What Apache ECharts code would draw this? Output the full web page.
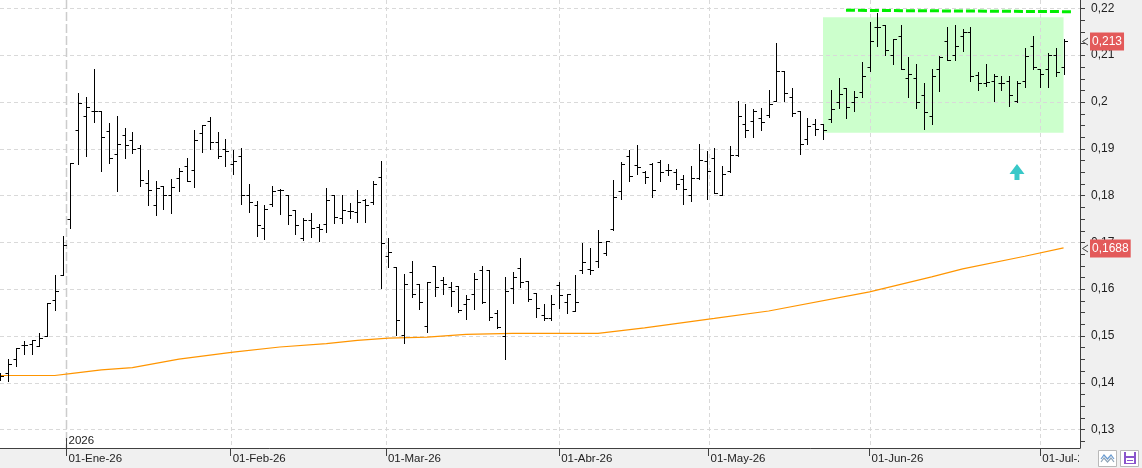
<!DOCTYPE html>
<html><head><meta charset="utf-8">
<script src="https://cdn.jsdelivr.net/npm/echarts@6/dist/echarts.min.js"></script>
<style>html,body{margin:0;padding:0;background:#f0f0f0}#c{width:1142px;height:468px}</style>
</head><body><div id="c"></div>
<script>
// ---- data ----
const dates = [
'17/12/25','18/12/25','19/12/25','22/12/25','23/12/25','24/12/25','29/12/25','30/12/25','31/12/25',
'02/01/26','05/01/26','06/01/26','07/01/26','08/01/26','09/01/26','12/01/26','13/01/26','14/01/26','15/01/26','16/01/26','19/01/26','20/01/26','21/01/26','22/01/26','23/01/26','26/01/26','27/01/26','28/01/26','29/01/26','30/01/26',
'02/02/26','03/02/26','04/02/26','05/02/26','06/02/26','09/02/26','10/02/26','11/02/26','12/02/26','13/02/26','16/02/26','17/02/26','18/02/26','19/02/26','20/02/26','23/02/26','24/02/26','25/02/26','26/02/26','27/02/26',
'02/03/26','03/03/26','04/03/26','05/03/26','06/03/26','09/03/26','10/03/26','11/03/26','12/03/26','13/03/26','16/03/26','17/03/26','18/03/26','19/03/26','20/03/26','23/03/26','24/03/26','25/03/26','26/03/26','27/03/26','30/03/26','31/03/26',
'01/04/26','02/04/26','07/04/26','08/04/26','09/04/26','10/04/26','13/04/26','14/04/26','15/04/26','16/04/26','17/04/26','20/04/26','21/04/26','22/04/26','23/04/26','24/04/26','27/04/26','28/04/26','29/04/26','30/04/26',
'04/05/26','05/05/26','06/05/26','07/05/26','08/05/26','11/05/26','12/05/26','13/05/26','14/05/26','15/05/26','18/05/26','19/05/26','20/05/26','21/05/26','22/05/26','25/05/26','26/05/26','27/05/26','28/05/26','29/05/26',
'01/06/26','02/06/26','03/06/26','04/06/26','05/06/26','08/06/26','09/06/26','10/06/26','11/06/26','12/06/26','15/06/26','16/06/26','17/06/26','18/06/26','19/06/26','22/06/26','23/06/26','24/06/26','25/06/26','26/06/26','29/06/26','30/06/26',
'01/07/26','02/07/26','03/07/26','06/07/26'
];
const open = [
.1411,.1421,.1451,.1480,.1483,.1478,.1499,.1576,.1629,
.1750,.1940,.1970,.1980,.1981,.1938,.1889,.1929,.1919,.1901,
.1827,.1780,.1821,.1801,.1837,.1863,.1855,.1933,.1960,.1914,
.1900,.1867,.1885,.1801,.1780,.1730,.1782,.1811,.1801,.1769,
.1709,.1748,.1732,.1739,.1801,.1751,.1767,.1764,.1790,.1785,
.1839,.1671,.1647,.1502,.1636,.1610,.1521,.1649,.1620,.1605,
.1607,.1568,.1590,.1641,.1641,.1548,.1500,.1603,.1644,.1617,
.1591,.1544,.1537,.1608,.1573,.1554,.1640,.1643,.1659,.1677,
.1728,.1810,.1885,.1865,.1851,.1868,.1871,.1854,.1851,.1835,
.1801,.1838,.1873,.1880,.1802,.1852,.1886,.1952,.1960,.1966,
.1973,.2001,.2067,.2011,.1980,.1921,.1953,.1952,.1964,.2000,
.2030,.2000,.2021,.2075,.2160,.2164,.2101,.2141,.2052,.2052,
.2015,.1970,.2070,.2131,.2101,.2141,.2149,.2058,.2040,.2044,
.2040,.2044,.2003,.2045,.2120,.2071,.2071,.2101,.2074
];
const high = [
.1421,.1451,.1474,.1488,.1491,.1506,.1570,.1629,.1714,
.1869,.2019,.2010,.2071,.1981,.1955,.1971,.1945,.1936,.1909,
.1855,.1832,.1821,.1836,.1859,.1881,.1940,.1951,.1967,.1935,
.1921,.1897,.1901,.1824,.1789,.1780,.1821,.1814,.1801,.1769,
.1751,.1762,.1739,.1816,.1801,.1801,.1783,.1811,.1792,.1831,
.1874,.1710,.1647,.1632,.1660,.1610,.1615,.1649,.1625,.1615,
.1607,.1588,.1634,.1649,.1641,.1555,.1625,.1636,.1666,.1617,
.1591,.1568,.1588,.1614,.1590,.1630,.1699,.1687,.1726,.1703,
.1833,.1871,.1898,.1908,.1853,.1869,.1875,.1868,.1856,.1844,
.1863,.1910,.1895,.1901,.1863,.1905,.2001,.1996,.1984,.1987,
.2026,.2126,.2067,.2030,.1980,.1966,.1964,.1952,.2026,.2051,
.2030,.2024,.2085,.2171,.2190,.2164,.2134,.2165,.2097,.2081,
.2040,.2070,.2099,.2160,.2165,.2156,.2160,.2065,.2081,.2059,
.2056,.2056,.2044,.2115,.2141,.2071,.2104,.2115,.2134
];
const low = [
.1406,.1403,.1435,.1461,.1461,.1478,.1499,.1555,.1629,
.1730,.1868,.1884,.1958,.1852,.1869,.1809,.1881,.1890,.1820,
.1779,.1758,.1771,.1763,.1809,.1830,.1819,.1894,.1899,.1881,
.1862,.1846,.1782,.1764,.1714,.1707,.1778,.1761,.1739,.1718,
.1704,.1712,.1702,.1722,.1742,.1742,.1751,.1743,.1744,.1782,
.1602,.1647,.1501,.1484,.1582,.1557,.1509,.1584,.1589,.1563,
.1550,.1536,.1558,.1571,.1534,.1516,.1450,.1570,.1604,.1575,
.1541,.1534,.1534,.1559,.1549,.1554,.1635,.1632,.1648,.1672,
.1727,.1793,.1832,.1846,.1826,.1796,.1832,.1843,.1814,.1781,
.1789,.1835,.1792,.1805,.1801,.1850,.1884,.1925,.1925,.1939,
.1967,.2001,.2003,.1969,.1889,.1910,.1930,.1921,.1957,.1987,
.1966,.1981,.2010,.2067,.2119,.2100,.2081,.2070,.2010,.1987,
.1942,.1953,.2024,.2090,.2089,.2110,.2044,.2025,.2034,.2003,
.2025,.1992,.2000,.2033,.2071,.2033,.2033,.2056,.2059
];
const close = [
.1413,.1440,.1473,.1480,.1490,.1495,.1570,.1596,.1694,
.1869,.1998,.1989,.1980,.1926,.1881,.1910,.1909,.1899,.1833,
.1812,.1815,.1801,.1818,.1853,.1832,.1919,.1951,.1914,.1885,
.1895,.1873,.1800,.1787,.1737,.1771,.1810,.1812,.1759,.1737,
.1748,.1730,.1728,.1791,.1753,.1770,.1767,.1787,.1780,.1825,
.1699,.1679,.1534,.1611,.1590,.1572,.1614,.1604,.1610,.1595,
.1555,.1578,.1622,.1573,.1540,.1518,.1596,.1626,.1615,.1579,
.1560,.1539,.1568,.1587,.1590,.1573,.1658,.1640,.1700,.1703,
.1796,.1868,.1841,.1861,.1839,.1811,.1851,.1854,.1824,.1814,
.1837,.1875,.1853,.1805,.1845,.1886,.1971,.1939,.1980,.1957,
.1996,.2067,.2019,.1976,.1911,.1948,.1942,.1940,.1985,.2016,
.1989,.2011,.2056,.2131,.2160,.2112,.2134,.2070,.2059,.2000,
.1978,.2056,.2097,.2090,.2120,.2149,.2056,.2040,.2042,.2056,
.2040,.2015,.2040,.2099,.2074,.2059,.2101,.2065,.2131
];
// moving average read at selected bars (bar index, value)
const maIdx = [0, 7, 9, 13, 17, 23, 30, 36, 42, 46, 50, 55, 60, 66, 77, 83, 92, 99, 112, 120, 124, 132, 137];
const maVal = [.1415,.1415,.1419,.1427,.1432,.1450,.1465,.1476,.1483,.1490,.1495,.1497,.1503,.1505,.1505,.1517,.1537,.1553,.1594,.1626,.1643,.1670,.1688];
// axis ticks / labels
const monthTickIdx = [8.5, 29.67, 49.67, 72, 91.25, 112, 134];
const monthLabels = ['01-Ene-26','01-Feb-26','01-Mar-26','01-Abr-26','01-May-26','01-Jun-26','01-Jul-26'];
const yearMark = [[8.5, '2026']];
const yLabelValues = [0.13,0.14,0.15,0.16,0.17,0.18,0.19,0.2,0.21,0.22];
const yMinorTicks = [0.1275,0.13,0.1325,0.135,0.1375,0.14,0.1425,0.145,0.1475,0.15,0.1525,0.155,0.1575,0.16,0.1625,0.165,0.1675,0.17,0.1725,0.175,0.1775,0.18,0.1825,0.185,0.1875,0.19,0.1925,0.195,0.1975,0.2,0.2025,0.205,0.2075,0.21,0.2125,0.215,0.2175,0.22];
// annotations
const rangeBox = [[106, 0.2181], [137, 0.1934]];
const resistance = [[108.96, 0.2196], [138.1, 0.2193]];
const arrowPoint = [[131, 0.1850]];
const priceTags = [0.213, 0.1688];

// ---- chart ----
const FONT = 'Liberation Sans';
const fmt = v => String(+(+v).toFixed(4)).replace('.', ',');
const chart = echarts.init(document.getElementById('c'), null, {renderer: 'canvas'});
const ohlcData = open.map((o, i) => [i, o, high[i], low[i], close[i], dates[i]]);
const AX = '#404040';

function renderOHLC(params, api) {
  const i = api.value(0);
  const pO = api.coord([i, api.value(1)]);
  const pH = api.coord([i, api.value(2)]);
  const pL = api.coord([i, api.value(3)]);
  const pC = api.coord([i, api.value(4)]);
  const x = Math.round(pO[0]) + 0.5;
  const r = v => Math.round(v) + 0.5;
  const st = {stroke: '#000', lineWidth: 1};
  return {type: 'group', children: [
    {type: 'line', shape: {x1: x, y1: Math.round(pH[1]), x2: x, y2: Math.round(pL[1]) + 1}, style: st},
    {type: 'line', shape: {x1: x - 3, y1: r(pO[1]), x2: x, y2: r(pO[1])}, style: st},
    {type: 'line', shape: {x1: x, y1: r(pC[1]), x2: x + 3.5, y2: r(pC[1])}, style: st}
  ]};
}

const option = {
  animation: false,
  backgroundColor: '#f0f0f0',
  grid: {left: 0, right: 62, top: 0, bottom: 20, show: true, backgroundColor: '#ffffff', borderWidth: 0},
  xAxis: {
    type: 'value', min: -0.06, max: 139.12,
    axisLine: {show: true, onZero: false, lineStyle: {color: AX, width: 1}},
    axisTick: {show: true, customValues: monthTickIdx, length: 8, lineStyle: {color: AX}},
    axisLabel: {
      customValues: monthTickIdx,
      formatter: v => {
        let k = 0, best = 1e9;
        monthTickIdx.forEach((m, j) => { if (Math.abs(m - v) < best) { best = Math.abs(m - v); k = j; } });
        return monthLabels[k];
      },
      align: 'left', margin: 5, padding: [0, 0, 0, 2], color: '#222', fontSize: 11.5, fontFamily: FONT
    },
    splitLine: {show: false}
  },
  yAxis: {
    type: 'value', position: 'right', min: 0.126, max: 0.2218,
    axisLine: {show: true, onZero: false, lineStyle: {color: AX, width: 1}},
    axisTick: {show: false},
    axisLabel: {customValues: yLabelValues, formatter: fmt, color: '#222', fontSize: 12, fontFamily: FONT, margin: 11},
    splitLine: {show: false}
  },
  series: [
    { // range box + resistance line
      type: 'line', data: [], z: 1, silent: true,
      markArea: {silent: true, itemStyle: {color: '#ccffcc'}, data: [[{coord: rangeBox[0]}, {coord: rangeBox[1]}]]},
      markLine: {silent: true, symbol: ['none', 'none'], label: {show: false},
        lineStyle: {color: '#00ee00', width: 3, type: [9, 3]},
        data: [[{coord: resistance[0]}, {coord: resistance[1]}]]}
    },
    { // horizontal gridlines
      type: 'custom', z: 2, silent: true, data: yLabelValues.map(v => [0, v]),
      renderItem: (p, api) => {
        const cs = p.coordSys;
        const y = Math.round(api.coord([0, api.value(1)])[1]) + 0.5;
        return {type: 'line', shape: {x1: cs.x, y1: y, x2: cs.x + cs.width, y2: y},
          style: {stroke: '#d9d9d9', lineWidth: 1, lineDash: [4, 3]}};
      }
    },
    { // right-axis ticks
      type: 'custom', z: 4, silent: true, data: yMinorTicks.map(v => [0, v]),
      renderItem: (p, api) => {
        const cs = p.coordSys;
        const y = Math.round(api.coord([0, api.value(1)])[1]) + 0.5;
        const x0 = cs.x + cs.width;
        return {type: 'line', shape: {x1: x0, y1: y, x2: x0 + 5, y2: y}, style: {stroke: AX, lineWidth: 1}};
      }
    },
    { // vertical month gridlines
      type: 'custom', z: 2, silent: true, data: monthTickIdx.map((v, k) => [v, 0.15, k]),
      renderItem: (p, api) => {
        const cs = p.coordSys;
        const x = Math.round(api.coord([api.value(0), 0.15])[0]) + 0.5;
        const first = api.value(2) === 0;
        return {type: 'line', shape: {x1: x, y1: cs.y, x2: x, y2: cs.y + cs.height},
          style: first ? {stroke: '#cccccc', lineWidth: 1.5, lineDash: [9, 3]} : {stroke: '#d9d9d9', lineWidth: 1, lineDash: [4, 3]}};
      }
    },
    { // year marker
      type: 'custom', z: 6, silent: true, data: yearMark.map(d => [d[0], 0.15]),
      renderItem: (p, api) => {
        const cs = p.coordSys;
        const x = Math.round(api.coord([api.value(0), 0.15])[0]) + 0.5;
        const yb = cs.y + cs.height;
        return {type: 'group', children: [
          {type: 'line', shape: {x1: x, y1: yb - 10, x2: x, y2: yb}, style: {stroke: AX, lineWidth: 1}},
          {type: 'text', style: {x: x + 2, y: yb - 1, text: yearMark[0][1], fill: '#222', font: '11.5px ' + FONT, verticalAlign: 'bottom', align: 'left'}}
        ]};
      }
    },
    { // moving average
      type: 'line', z: 3, silent: true, showSymbol: false, symbol: 'none',
      data: maIdx.map((x, k) => [x, maVal[k]]),
      lineStyle: {color: '#ff9500', width: 1.2}
    },
    { // OHLC bars
      type: 'custom', z: 5, data: ohlcData, encode: {x: 0, y: [1, 2, 3, 4]},
      renderItem: renderOHLC
    },
    { // cyan arrow
      type: 'scatter', z: 6, silent: true, data: arrowPoint,
      symbol: 'path://M7.5,0 L15,10 L10,10 L10,16 L5,16 L5,10 L0,10 Z',
      symbolSize: [15, 16], itemStyle: {color: '#38c8c8', opacity: 1}
    },
    { // price tags on the right axis
      type: 'custom', z: 10, silent: true, data: priceTags.map(v => [0, v]),
      renderItem: (p, api) => {
        const cs = p.coordSys;
        const v = api.value(1);
        const y = Math.round(api.coord([0, v])[1]);
        const x0 = cs.x + cs.width;
        return {type: 'group', children: [
          {type: 'polyline', shape: {points: [[x0 + 8, y - 3], [x0 + 2.5, y + 0.5], [x0 + 8, y + 4]]}, style: {stroke: '#444', lineWidth: 1, fill: null}},
          {type: 'text', style: {x: x0 + 10, y: y + 0.5, text: fmt(v), fill: '#ffffff', font: '12px ' + FONT,
            backgroundColor: '#e35a5a', padding: [3, 2, 3, 2], verticalAlign: 'middle', align: 'left'}}
        ]};
      }
    }
  ],
  graphic: [
    {type: 'rect', z: 100, shape: {x: 1079, y: 449, width: 63, height: 19}, style: {fill: '#f0f0f0'}},
    {type: 'rect', z: 101, shape: {x: 1098.5, y: 450.5, width: 18, height: 16}, style: {fill: '#ffffff', stroke: '#b9b9b9', lineWidth: 1}},
    {type: 'polyline', z: 102, shape: {points: [[1101, 459], [1104, 455], [1107.5, 459], [1111, 455], [1114, 459]]}, style: {stroke: '#6a9bd0', lineWidth: 1.2, fill: null}},
    {type: 'polyline', z: 102, shape: {points: [[1101, 462], [1104, 458], [1107.5, 462], [1111, 458], [1114, 462]]}, style: {stroke: '#8fa4b8', lineWidth: 1.2, fill: null}},
    {type: 'rect', z: 101, shape: {x: 1120.5, y: 450.5, width: 18, height: 16}, style: {fill: '#ffffff', stroke: '#b9b9b9', lineWidth: 1}},
    {type: 'rect', z: 102, shape: {x: 1124, y: 452, width: 12, height: 12}, style: {fill: '#8a55cc'}},
    {type: 'rect', z: 103, shape: {x: 1126, y: 452, width: 8, height: 4}, style: {fill: '#ffffff'}},
    {type: 'rect', z: 103, shape: {x: 1126, y: 458, width: 8, height: 5}, style: {fill: '#ffffff'}},
    {type: 'rect', z: 104, shape: {x: 1127, y: 460, width: 6, height: 1}, style: {fill: '#8a55cc'}}
  ]
};
chart.setOption(option);
</script>
</body></html>
